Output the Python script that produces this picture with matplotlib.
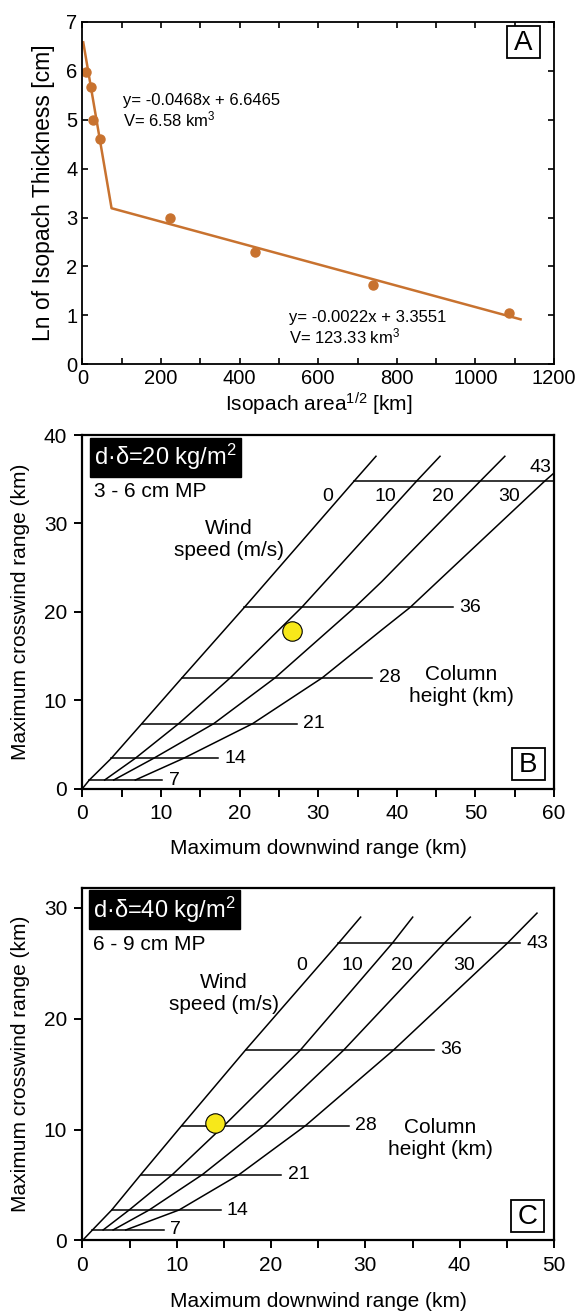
import numpy as np
import matplotlib.pyplot as plt
from matplotlib.ticker import MultipleLocator
from matplotlib.patches import Rectangle

plt.rcParams['font.family'] = ['Liberation Sans', 'DejaVu Sans']
plt.rcParams['mathtext.fontset'] = 'custom'
plt.rcParams['mathtext.rm'] = 'Liberation Sans'
plt.rcParams['mathtext.it'] = 'Liberation Sans'

# ---- panel A: ln thickness vs sqrt(isopach area)
a_x = [10, 22, 28, 45, 222, 440, 740, 1085]
a_y = [5.98, 5.67, 4.99, 4.60, 3.00, 2.30, 1.63, 1.05]
fit_x = [2, 74, 1115]
fit_y = [6.58, 3.19, 0.92]
eq1 = 'y= -0.0468x + 6.6465\nV= 6.58 km$^3$'
eq2 = 'y= -0.0022x + 3.3551\nV= 123.33 km$^3$'

# ---- panel B: d.delta = 20 kg/m2
b_h = [7, 14, 21, 28, 36, 43]
b_hy = [0.96, 3.42, 7.34, 12.52, 20.5, 34.77]
b_hx0 = [0.87, 3.67, 7.55, 12.66, 20.6, 34.55]
b_hx1 = [10.17, 17.3, 27.3, 36.9, 47.2, 60.0]
b_wind = [0, 10, 20, 30]
b_wx = [[0, 0.87, 3.67, 7.55, 12.66, 20.6, 34.55, 37.35],
        [2.82, 6.72, 12.24, 18.8, 27.9, 42.5, 45.5],
        [3.97, 9.06, 16.7, 24.5, 34.65, 38.1, 50.6, 53.75],
        [6.72, 12.87, 21.65, 30.5, 38.1, 41.7, 58.8, 60.0]]
b_wy = [[0, 0.96, 3.42, 7.34, 12.52, 20.5, 34.77, 37.6],
        [0.96, 3.42, 7.34, 12.52, 20.5, 34.77, 37.6],
        [0.96, 3.42, 7.34, 12.52, 20.5, 23.43, 34.77, 37.6],
        [0.96, 3.42, 7.34, 12.52, 17.96, 20.5, 34.77, 35.7]]
b_pt = (26.65, 17.88)

# ---- panel C: d.delta = 40 kg/m2
c_h = [7, 14, 21, 28, 36, 43]
c_hy = [0.95, 2.75, 5.94, 10.36, 17.19, 26.82]
c_hx0 = [1.06, 3.1, 6.18, 10.52, 17.3, 27.15]
c_hx1 = [8.65, 14.65, 21.1, 28.25, 37.3, 46.4]
c_wind = [0, 10, 20, 30]
c_wx = [[0, 1.06, 3.1, 6.18, 10.52, 17.3, 27.15, 29.5],
        [2.19, 4.95, 9.53, 15.01, 23.12, 32.86, 35.02],
        [3.25, 7.07, 12.71, 19.25, 27.72, 38.37, 41.13],
        [4.59, 10.24, 16.6, 23.65, 33.0, 45.06, 48.2]]
c_wy = [[0, 0.95, 2.75, 5.94, 10.36, 17.19, 26.82, 29.17],
        [0.95, 2.75, 5.94, 10.36, 17.19, 26.82, 29.17],
        [0.95, 2.75, 5.94, 10.36, 17.19, 26.82, 29.17],
        [0.95, 2.75, 5.94, 10.36, 17.19, 26.82, 29.53]]
c_pt = (14.05, 10.63)

orange = '#c8722f'

fig = plt.figure(figsize=(5.8, 13.12), dpi=100)


def letter_box(ax, cx, cy, w, h, letter):
    ax.add_patch(Rectangle((cx - w / 2, cy - h / 2), w, h, transform=ax.transAxes,
                           facecolor='white', edgecolor='black', lw=1.3, zorder=5))
    ax.text(cx, cy - 0.002, letter, transform=ax.transAxes, fontsize=20,
            ha='center', va='center', zorder=6)


# A
ax = fig.add_axes([0.1422, 0.7223, 0.8129, 0.2611])
ax.plot(fit_x, fit_y, color=orange, lw=1.8)
ax.plot(a_x, a_y, 'o', color=orange, ms=6.5)
ax.set_xlim(0, 1200)
ax.set_ylim(0, 7)
ax.xaxis.set_major_locator(MultipleLocator(200))
ax.xaxis.set_minor_locator(MultipleLocator(100))
ax.yaxis.set_major_locator(MultipleLocator(1))
ax.tick_params(which='both', direction='in', top=True, right=True, labelsize=14.5,
               length=4.5, width=1.2)
ax.set_xlabel('Isopach area$^{1/2}$ [km]', fontsize=15, labelpad=2)
ax.set_ylabel('Ln of Isopach Thickness [cm]', fontsize=16.5, labelpad=8)
ax.text(103, 5.54, eq1, fontsize=12, va='top', linespacing=1.1)
ax.text(525, 1.11, eq2, fontsize=12, va='top', linespacing=1.1)
letter_box(ax, 0.935, 0.94, 33 / 471.5, 32 / 342.6, 'A')
for s in ax.spines.values():
    s.set_linewidth(1.3)


def nomogram(ax, hx0, hx1, hy, h, wx, wy, wind, pt, xmax, ymax, dd, mp,
             lab0, lab1, windpos, wtxt, ctxt, top_lab, xpad):
    for x0, x1, y, lab in zip(hx0, hx1, hy, h):
        ax.plot([x0, x1], [y, y], color='black', lw=1.1)
        if top_lab is not None and lab == 43:
            ax.text(top_lab[0], top_lab[1], str(lab), fontsize=14,
                    ha='center', va='center')
        else:
            ax.annotate(str(lab), (x1, y), xytext=(4.5, 0), textcoords='offset points',
                        fontsize=14, va='center', ha='left')
    for xs, ys in zip(wx, wy):
        ax.plot(xs, ys, color='black', lw=1.1)
    for (lx, ly), w in zip(windpos, wind):
        ax.text(lx, ly, str(w), fontsize=14, ha='center', va='center')
    ax.text(wtxt[0], wtxt[1], 'Wind\nspeed (m/s)', fontsize=15,
            ha='center', va='center', linespacing=1.2)
    ax.text(ctxt[0], ctxt[1], 'Column\nheight (km)', fontsize=15,
            ha='center', va='center', linespacing=1.2)
    ax.plot(pt[0], pt[1], 'o', ms=14, mfc='#f7e81a', mec='black', mew=0.8, zorder=4)
    ax.set_xlim(0, xmax)
    ax.set_ylim(0, ymax)
    ax.xaxis.set_major_locator(MultipleLocator(10))
    ax.xaxis.set_minor_locator(MultipleLocator(5))
    ax.yaxis.set_major_locator(MultipleLocator(10))
    ax.tick_params(which='both', direction='out', labelsize=15, length=6, width=1.4,
                   pad=5)
    ax.set_xlabel('Maximum downwind range (km)', fontsize=15, labelpad=xpad)
    ax.set_ylabel('Maximum crosswind range (km)', fontsize=15, labelpad=10)
    ax.text(lab0[0], lab0[1], dd, color='white', fontsize=17, va='center',
            bbox=dict(facecolor='black', edgecolor='black', pad=3))
    ax.text(lab1[0], lab1[1], mp, fontsize=15, va='center')
    for s in ax.spines.values():
        s.set_linewidth(1.6)


axb = fig.add_axes([0.1422, 0.399, 0.8129, 0.2694])
nomogram(axb, b_hx0, b_hx1, b_hy, b_h, b_wx, b_wy, b_wind, b_pt, 60, 40,
         'd\u00b7\u03b4=20 kg/m$^2$', '3 - 6 cm MP',
         (1.45, 37.5), (1.45, 33.6),
         [(31.15, 33.0), (38.6, 33.0), (45.9, 33.0), (54.3, 33.0)],
         (18.6, 28.2), (48.2, 11.7), (58.3, 36.3), 12)
letter_box(axb, 0.946, 0.069, 33 / 471.5, 32 / 353.5, 'B')

axc = fig.add_axes([0.1422, 0.0545, 0.8129, 0.2687])
nomogram(axc, c_hx0, c_hx1, c_hy, c_h, c_wx, c_wy, c_wind, c_pt, 50, 31.8,
         'd\u00b7\u03b4=40 kg/m$^2$', '6 - 9 cm MP',
         (1.1, 29.83), (1.1, 26.67),
         [(23.24, 24.77), (28.66, 24.77), (33.84, 24.77), (40.5, 24.77)],
         (15.0, 22.3), (37.96, 9.22), None, 12.5)
letter_box(axc, 0.944, 0.0695, 33 / 471.5, 32 / 352.5, 'C')

fig.savefig('out.png', dpi=100)
